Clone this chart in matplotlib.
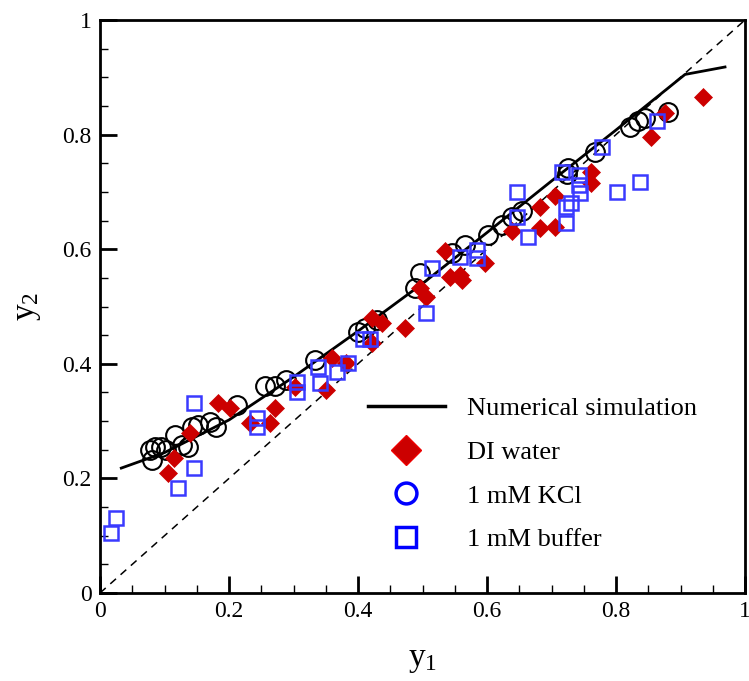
import matplotlib
matplotlib.use("Agg")
import matplotlib.pyplot as plt
from matplotlib.lines import Line2D
from matplotlib.ticker import MultipleLocator, FuncFormatter

plt.rcParams['font.family'] = ['Liberation Serif', 'DejaVu Serif']
plt.rcParams['mathtext.fontset'] = 'custom'
plt.rcParams['mathtext.rm'] = 'Liberation Serif'
plt.rcParams['mathtext.it'] = 'Liberation Serif'

# Numerical simulation curve
sim_x = [0.033, 0.1, 0.2, 0.3, 0.4, 0.5, 0.6, 0.7, 0.8, 0.907, 0.969]
sim_y = [0.218, 0.245, 0.302, 0.377, 0.457, 0.540, 0.629, 0.719, 0.808, 0.905, 0.918]

# DI water (red diamonds)
di_x = [0.106, 0.114, 0.140, 0.183, 0.202, 0.233, 0.264, 0.271, 0.302, 0.351,
        0.359, 0.382, 0.421, 0.421, 0.437, 0.473, 0.496, 0.506, 0.535, 0.543,
        0.558, 0.561, 0.597, 0.638, 0.682, 0.682, 0.705, 0.705, 0.762, 0.762,
        0.855, 0.876, 0.935]
di_y = [0.209, 0.235, 0.280, 0.332, 0.322, 0.297, 0.297, 0.322, 0.360, 0.354,
        0.410, 0.401, 0.436, 0.480, 0.471, 0.462, 0.532, 0.517, 0.596, 0.552,
        0.555, 0.546, 0.576, 0.631, 0.637, 0.674, 0.639, 0.692, 0.735, 0.715,
        0.796, 0.837, 0.866]

# 1 mM KCl (black circles)
kcl_x = [0.080, 0.078, 0.085, 0.095, 0.102, 0.116, 0.127, 0.136, 0.143, 0.152,
         0.171, 0.180, 0.212, 0.256, 0.271, 0.289, 0.333, 0.400, 0.411, 0.429,
         0.488, 0.496, 0.545, 0.566, 0.601, 0.623, 0.638, 0.654, 0.724, 0.726,
         0.767, 0.822, 0.834, 0.845, 0.881]
kcl_y = [0.232, 0.250, 0.255, 0.255, 0.250, 0.276, 0.258, 0.255, 0.290, 0.293,
         0.298, 0.290, 0.328, 0.361, 0.361, 0.372, 0.407, 0.456, 0.462, 0.476,
         0.532, 0.558, 0.593, 0.607, 0.625, 0.642, 0.657, 0.666, 0.732, 0.742,
         0.770, 0.814, 0.823, 0.829, 0.840]

# 1 mM buffer (blue squares)
buf_x = [0.017, 0.025, 0.121, 0.146, 0.146, 0.243, 0.243, 0.305, 0.305, 0.338,
         0.341, 0.367, 0.385, 0.408, 0.419, 0.506, 0.514, 0.558, 0.584, 0.584,
         0.646, 0.646, 0.664, 0.716, 0.723, 0.723, 0.731, 0.742, 0.742, 0.744,
         0.778, 0.802, 0.837, 0.864]
buf_y = [0.105, 0.131, 0.184, 0.219, 0.332, 0.305, 0.290, 0.369, 0.351, 0.395,
         0.367, 0.386, 0.402, 0.444, 0.444, 0.489, 0.568, 0.587, 0.599, 0.584,
         0.657, 0.700, 0.622, 0.735, 0.674, 0.646, 0.680, 0.729, 0.712, 0.698,
         0.778, 0.700, 0.718, 0.823]

diag = [0, 1]

fig = plt.figure(figsize=(7.49, 6.81), dpi=100)
ax = fig.add_axes([100/749, 88/681, 645/749, 573/681])

ax.plot(diag, diag, color='black', lw=1.1, ls=(0, (5, 4)), zorder=1)
ax.plot(sim_x, sim_y, color='black', lw=2.0, zorder=2)
ax.plot(kcl_x, kcl_y, ls='none', marker='o', ms=13.5, mfc='none', mec='black', mew=1.5, zorder=3)
ax.plot(di_x, di_y, ls='none', marker='D', ms=9.5, mfc='#cc0000', mec='#cc0000', mew=0.5, zorder=4)
ax.plot(buf_x, buf_y, ls='none', marker='s', ms=10, mfc='none', mec='#3a3aff', mew=1.8, zorder=5)

fmt = FuncFormatter(lambda v, p: '%g' % round(v, 2))
ax.set_xlim(0, 1)
ax.set_ylim(0, 1)
ax.xaxis.set_major_locator(MultipleLocator(0.2))
ax.yaxis.set_major_locator(MultipleLocator(0.2))
ax.xaxis.set_minor_locator(MultipleLocator(0.05))
ax.yaxis.set_minor_locator(MultipleLocator(0.05))
ax.xaxis.set_major_formatter(fmt)
ax.yaxis.set_major_formatter(fmt)
ax.tick_params(which='major', direction='in', length=12, width=2, labelsize=17, pad=6)
ax.tick_params(which='minor', direction='in', length=6, width=1)
for s in ax.spines.values():
    s.set_linewidth(2)

ax.set_xlabel(r'$\mathregular{y_1}$', fontsize=24, labelpad=16)
ax.set_ylabel(r'$\mathregular{y_2}$', fontsize=24, labelpad=14)

handles = [
    Line2D([], [], color='black', lw=2.5),
    Line2D([], [], ls='none', marker='D', ms=15, mfc='#cc0000', mec='#ee0000', mew=1),
    Line2D([], [], ls='none', marker='o', ms=15, mfc='none', mec='#0000ff', mew=2.5),
    Line2D([], [], ls='none', marker='s', ms=14, mfc='none', mec='#0000ff', mew=2.5),
]
labels = ['Numerical simulation', 'DI water', '1 mM KCl', '1 mM buffer']
ax.legend(handles, labels, loc='upper left', bbox_to_anchor=((368-100)/645, (593-397)/573),
          frameon=False, fontsize=19, handlelength=2.9, handletextpad=0.87,
          labelspacing=0.76, borderpad=0, borderaxespad=0)

fig.savefig('out.png', dpi=100)
